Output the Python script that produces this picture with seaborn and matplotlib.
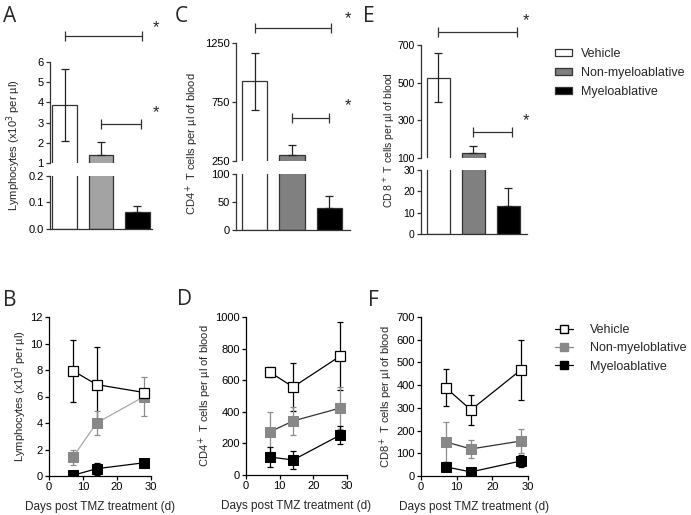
import matplotlib
matplotlib.use("Agg")
import matplotlib.pyplot as plt
import matplotlib.transforms as mtransforms
from matplotlib.patches import Patch
from matplotlib.lines import Line2D
import seaborn as sns

groups = ["Vehicle", "Non-myeloablative", "Myeloablative"]

# top row: bar charts (mean, sem)
lymph_mean = [3.88, 1.4, 0.065]
lymph_err = [1.78, 0.65, 0.023]
cd4_mean = [925, 301, 39]
cd4_err = [240, 85, 22]
cd8_mean = [525, 127, 13]
cd8_err = [130, 37, 8.5]

# bottom row: time course
days = [7, 14, 28]
b_vehicle = [7.95, 6.9, 6.3]
b_vehicle_err = [2.35, 2.8, 0.25]
b_non = [1.4, 4.0, 6.0]
b_non_err = [0.55, 0.9, 1.5]
b_myelo = [0.05, 0.55, 1.0]
b_myelo_err = [0.05, 0.45, 0.1]

d_vehicle = [652, 557, 753]
d_vehicle_err = [32, 150, 215]
d_non = [272, 342, 424]
d_non_err = [127, 88, 133]
d_myelo = [114, 95, 253]
d_myelo_err = [62, 55, 57]

f_vehicle = [388, 291, 467]
f_vehicle_err = [82, 66, 132]
f_non = [150, 119, 154]
f_non_err = [88, 40, 53]
f_myelo = [40, 18, 66]
f_myelo_err = [20, 8, 26]

line_labels = ["Vehicle", "Non-myeloblative", "Myeloablative"]

W, H = 691, 515
sns.set_style("ticks")
plt.rcParams["font.family"] = ["Liberation Sans", "DejaVu Sans"]
plt.rcParams["font.size"] = 8
plt.rcParams["xtick.major.size"] = 3
plt.rcParams["ytick.major.size"] = 3
plt.rcParams["xtick.major.pad"] = 1.5
plt.rcParams["ytick.major.pad"] = 1.5
plt.rcParams["axes.linewidth"] = 0.9

fig = plt.figure(figsize=(W / 100, H / 100), dpi=100)
INK = "#333333"


def px_axes(x0, x1, y0, y1):
    return fig.add_axes([x0 / W, 1 - y1 / H, (x1 - x0) / W, (y1 - y0) / H])


def style_ax(ax, size=8):
    for s in ("top", "right"):
        ax.spines[s].set_visible(False)
    for s in ("left", "bottom"):
        ax.spines[s].set_color(INK)
    ax.tick_params(colors=INK, labelcolor="black", labelsize=size, width=0.9)


def bar_panel(xs, ys, xlim, means, errs, gray, ylims, yticks, ylabel, lab_xy,
              letter, letter_xy, sig, width=0.68, lab_size=8, tick_size=8):
    x0, x1 = xs
    up = px_axes(x0, x1, ys[0], ys[1])
    low = px_axes(x0, x1, ys[2], ys[3])
    pal = {groups[0]: "white", groups[1]: gray, groups[2]: "black"}
    lower = [errs[0], 0, 0]
    for ax, lim, ticks in ((up, ylims[0], yticks[0]), (low, ylims[1], yticks[1])):
        sns.barplot(x=groups, y=means, hue=groups, palette=pal, order=groups,
                    saturation=1, width=width, edgecolor=INK, linewidth=0.9,
                    legend=False, ax=ax)
        ax.errorbar(range(3), means, yerr=[lower, errs], fmt="none",
                    ecolor="#222222", elinewidth=0.9, capsize=3, capthick=0.9)
        ax.set_xlim(*xlim)
        ax.set_ylim(*lim)
        ax.set_yticks(ticks)
        ax.set_xticks([])
        ax.set_xlabel("")
        ax.set_ylabel("")
        style_ax(ax, tick_size)
    up.spines["bottom"].set_visible(False)
    fig.text(lab_xy[0] / W, 1 - lab_xy[1] / H, ylabel, rotation=90,
             ha="center", va="center", fontsize=lab_size)
    fig.text(letter_xy[0] / W, 1 - letter_xy[1] / H, letter, fontsize=15,
             family="Open Sans", va="top", ha="left")
    trans = mtransforms.blended_transform_factory(up.transData, fig.transFigure)
    for sx0, sx1, sy, sty in sig:
        up.plot([sx0, sx1], [1 - sy / H] * 2, transform=trans, clip_on=False,
                color=INK, lw=0.9, marker="|", ms=7, mew=0.9)
        up.text(2.5, 1 - sty / H, "*", transform=trans, ha="center",
                va="center", fontsize=12)
    return up, low


def line_panel(xs, ys, series, ylim, yticks, ylabel, letter, letter_xy, non_line):
    ax = px_axes(xs[0], xs[1], ys[0], ys[1])
    (veh, veh_e), (non, non_e), (mye, mye_e) = series
    ax.errorbar(days, veh, yerr=veh_e, fmt="none", ecolor="black",
                elinewidth=0.9, capsize=2.5, capthick=0.9, zorder=1)
    ax.errorbar(days, non, yerr=non_e, fmt="none", ecolor="#8c8c8c",
                elinewidth=0.9, capsize=2.5, capthick=0.9, zorder=1)
    ax.errorbar(days, mye, yerr=mye_e, fmt="none", ecolor="black",
                elinewidth=0.9, capsize=2.5, capthick=0.9, zorder=1)
    sns.lineplot(x=days, y=non, ax=ax, color=non_line, lw=0.9, marker="s",
                 ms=7.5, markerfacecolor="#888888", markeredgecolor="#888888",
                 zorder=3)
    sns.lineplot(x=days, y=mye, ax=ax, color="black", lw=0.9, marker="s",
                 ms=7.5, markerfacecolor="black", markeredgecolor="black",
                 zorder=3)
    sns.lineplot(x=days, y=veh, ax=ax, color="black", lw=0.9, marker="s",
                 ms=7.5, markerfacecolor="white", markeredgecolor="black",
                 markeredgewidth=0.9, zorder=4)
    ax.set_xlim(0, 30)
    ax.set_xticks([0, 10, 20, 30])
    ax.set_ylim(*ylim)
    ax.set_yticks(yticks)
    ax.set_xlabel("Days post TMZ treatment (d)", fontsize=8.5, labelpad=6)
    ax.set_ylabel(ylabel, fontsize=8, labelpad=1)
    style_ax(ax)
    ax.tick_params(colors="black")
    for s in ("left", "bottom"):
        ax.spines[s].set_color("black")
    fig.text(letter_xy[0] / W, 1 - letter_xy[1] / H, letter, fontsize=15,
             family="Open Sans", va="top", ha="left")
    return ax


lymph_label = "Lymphocytes (x10$^3$ per \u00b5l)"

bar_panel((50, 152), (62, 163, 176, 229), (-0.4, 2.4), lymph_mean, lymph_err,
          "#a3a3a3", ((1, 6), (0, 0.2)),
          ([1, 2, 3, 4, 5, 6], [0.0, 0.1, 0.2]),
          lymph_label, (14, 145), "A", (3, 6),
          [(0, 2.13, 36, 28), (1, 2.1, 124, 113)])
bar_panel((236, 350), (43, 161, 174, 230), (-0.5, 2.55), cd4_mean, cd4_err,
          "#808080", ((250, 1250), (0, 100)),
          ([250, 750, 1250], [0, 50, 100]),
          "CD4$^+$ T cells per \u00b5l of blood", (192, 144), "C", (175, 6),
          [(0, 2.03, 28, 19), (1, 2.0, 118, 106)])
bar_panel((421, 527), (45, 158, 170, 234), (-0.5, 2.53), cd8_mean, cd8_err,
          "#808080", ((100, 700), (0, 30)),
          ([100, 300, 500, 700], [0, 10, 20, 30]),
          "CD 8$^+$ T cells per \u00b5l of blood", (389, 140), "E", (363, 6),
          [(0, 2.24, 32, 21), (1, 2.1, 132, 121)], width=0.66, lab_size=7.5,
          tick_size=7.5)

line_panel((49, 151), (317, 476),
           [(b_vehicle, b_vehicle_err), (b_non, b_non_err), (b_myelo, b_myelo_err)],
           (0, 12), range(0, 13, 2), lymph_label, "B", (3, 290), "#a8a8a8")
line_panel((246, 347), (317, 475),
           [(d_vehicle, d_vehicle_err), (d_non, d_non_err), (d_myelo, d_myelo_err)],
           (0, 1000), range(0, 1001, 200), "CD4$^+$ T cells per \u00b5l of blood",
           "D", (177, 289), "#333333")
line_panel((421, 528), (317, 476),
           [(f_vehicle, f_vehicle_err), (f_non, f_non_err), (f_myelo, f_myelo_err)],
           (0, 700), range(0, 701, 100), "CD8$^+$ T cells per \u00b5l of blood",
           "F", (368, 290), "#333333")

bar_handles = [Patch(facecolor=c, edgecolor=INK, linewidth=0.9)
               for c in ("white", "#808080", "black")]
fig.legend(bar_handles, groups, loc="upper left",
           bbox_to_anchor=(544 / W, 1 - 37 / H), frameon=False, fontsize=9,
           handlelength=1.35, handleheight=0.5, handletextpad=0.7,
           labelspacing=0.55)

line_handles = [
    Line2D([], [], color="black", lw=0.9, marker="s", ms=6,
           markerfacecolor="white", markeredgecolor="black"),
    Line2D([], [], color="#888888", lw=0.9, marker="s", ms=6,
           markerfacecolor="#888888", markeredgecolor="#888888"),
    Line2D([], [], color="black", lw=0.9, marker="s", ms=6,
           markerfacecolor="black", markeredgecolor="black"),
]
fig.legend(line_handles, line_labels, loc="upper left",
           bbox_to_anchor=(544 / W, 1 - 313 / H), frameon=False, fontsize=9,
           handlelength=1.4, handletextpad=1.4, labelspacing=0.5)

fig.savefig("out.png", dpi=100)
